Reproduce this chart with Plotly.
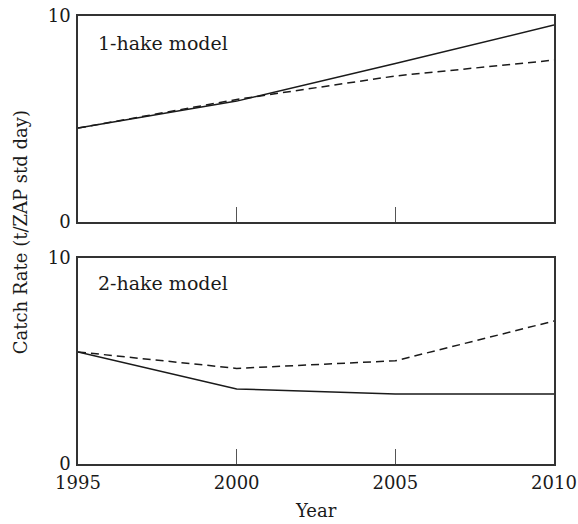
import plotly.graph_objects as go
from plotly.subplots import make_subplots

years = [1995, 2000, 2005, 2010]

# 1-hake model projections
one_hake_solid = [4.56, 5.87, 7.70, 9.56]
one_hake_dashed = [4.56, 5.95, 7.09, 7.86]

# 2-hake model projections
two_hake_solid = [5.44, 3.64, 3.40, 3.40]
two_hake_dashed = [5.44, 4.64, 5.01, 6.94]

panel_titles = ["1-hake model", "2-hake model"]
x_ticks = [1995, 2000, 2005, 2010]
y_ticks = [0, 10]

FONT = "DejaVu Serif"
INK = "#1a1a1a"
FRAME = "#333333"

fig = make_subplots(rows=2, cols=1, shared_xaxes=False, vertical_spacing=0.08)

for row, (solid, dashed) in enumerate(
    [(one_hake_solid, one_hake_dashed), (two_hake_solid, two_hake_dashed)], start=1
):
    fig.add_trace(
        go.Scatter(x=years, y=solid, mode="lines",
                   line=dict(color=INK, width=1.5), showlegend=False),
        row=row, col=1,
    )
    fig.add_trace(
        go.Scatter(x=years, y=dashed, mode="lines",
                   line=dict(color=INK, width=1.5, dash="8px,5px"), showlegend=False),
        row=row, col=1,
    )

axis_common = dict(
    showgrid=False, zeroline=False, showline=True, mirror=True,
    linecolor=FRAME, linewidth=1.5, automargin=False,
)

for row in (1, 2):
    fig.update_xaxes(
        range=[1995, 2010], tickvals=x_ticks, ticktext=[str(v) for v in x_ticks],
        ticks="inside", ticklen=15, tickwidth=1.2, tickcolor="#555555",
        showticklabels=(row == 2), ticklabelstandoff=2,
        tickfont=dict(family=FONT, size=18, color=INK),
        row=row, col=1, **axis_common,
    )
    fig.update_yaxes(
        range=[0, 10], tickvals=y_ticks, ticks="",
        ticklabelstandoff=2,
        tickfont=dict(family=FONT, size=18, color=INK),
        row=row, col=1, **axis_common,
    )

fig.update_layout(
    xaxis=dict(domain=[0, 1]),
    yaxis=dict(domain=[0.540, 1.0]),
    xaxis2=dict(domain=[0, 1]),
    yaxis2=dict(domain=[0.0, 0.4598]),
)

fig.add_annotation(
    text=panel_titles[0], xref="x domain", yref="y domain", x=0.037, y=0.87,
    xanchor="left", yanchor="middle", showarrow=False,
    font=dict(family=FONT, size=19, color=INK),
)
fig.add_annotation(
    text=panel_titles[1], xref="x2 domain", yref="y2 domain", x=0.037, y=0.88,
    xanchor="left", yanchor="middle", showarrow=False,
    font=dict(family=FONT, size=19, color=INK),
)
# Shared axis titles
fig.add_annotation(
    text="Catch Rate (t/ZAP std day)", xref="paper", yref="paper",
    x=-0.122, y=0.517, textangle=-90, showarrow=False,
    xanchor="center", yanchor="middle",
    font=dict(family=FONT, size=18, color=INK),
)
fig.add_annotation(
    text="Year", xref="paper", yref="paper",
    x=0.5, y=-0.104, showarrow=False,
    xanchor="center", yanchor="middle",
    font=dict(family=FONT, size=18, color=INK),
)

fig.update_layout(
    width=578, height=524,
    margin=dict(l=78, r=24, t=16, b=60),
    paper_bgcolor="white", plot_bgcolor="white",
    font=dict(family=FONT, size=18, color=INK),
)

fig.write_html("out.html")
